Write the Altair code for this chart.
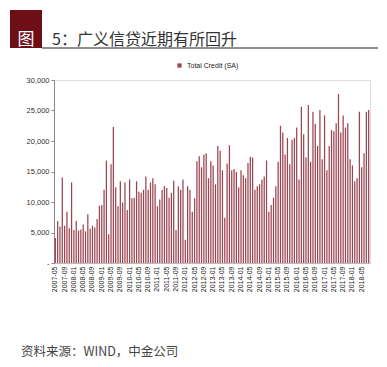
import altair as alt
import pandas as pd

start_month = "2007-05"
values = [
    4100, 6900, 6000, 14000, 6100, 8400, 5700, 13200, 5400, 6900, 5300, 5500, 6300, 5200,
    8000, 5600, 6100, 5800, 7200, 9400, 9500, 12000, 16800, 4700, 16200, 22300, 12400, 9300,
    13400, 9900, 13200, 8700, 13700, 10600, 10700, 13400, 11700, 11500, 12000, 14200, 12000,
    13200, 13900, 12900, 9300, 10400, 12000, 12600, 12300, 10700, 11500, 13500, 5400, 12600,
    12000, 13700, 3800, 12600, 12000, 8400, 10600, 16700, 17500, 15700, 17800, 18000, 13900,
    16700, 16000, 12900, 19200, 18400, 15200, 7400, 16300, 19300, 15200, 15400, 14900, 12400,
    15200, 14400,
    13900, 16400, 17400, 17300, 12000, 12600, 12900, 13700, 14200, 16800, 8400, 9500, 10700,
    12600, 16600, 22500, 21400, 17800, 20500, 16200, 20200, 20500, 22200, 13700, 25600, 21100,
    17300, 25900,
    16600, 24800, 22800, 19200, 25100, 17000, 24200, 15200, 19200, 21800, 21600, 22900, 27700,
    21400, 24200, 22200, 22900, 17000, 16000, 13400, 13900, 24800, 15700, 18000, 24800, 25100,
]
series_name = "Total Credit (SA)"
title_num = "5：广义信贷近期有所回升"
title_box = "图"
source_text = "资料来源：WIND，中金公司"
y_ticks = [0, 5000, 10000, 15000, 20000, 25000, 30000]

months = pd.date_range(start_month + "-01", periods=len(values), freq="MS").strftime("%Y-%m").tolist()
df = pd.DataFrame({"month": months, "value": values, "series": series_name})
label_months = months[::4]
one = pd.DataFrame({"k": [0]})

W, H = 316, 183
bar_color = "#9c4450"

bars = alt.Chart(df).mark_bar(width=1.25).encode(
    x=alt.X("month:N", sort=None, scale=alt.Scale(paddingInner=0.45, paddingOuter=0.3),
            axis=alt.Axis(values=label_months, labelAngle=270, labelFontSize=7, labelColor="#222",
                          labelFont="Liberation Sans", ticks=False, domainColor="#bbbbbb",
                          labelPadding=3, title=None)),
    y=alt.Y("value:Q", scale=alt.Scale(domain=[0, 30000], nice=False),
            axis=alt.Axis(values=y_ticks, labelFontSize=7.5, labelColor="#333",
                          labelFont="Liberation Sans", tickSize=3, tickColor="#888",
                          domainColor="#888", grid=False, title=None,
                          labelExpr="datum.value == 0 ? '-' : format(datum.value, ',')")),
    color=alt.Color("series:N", scale=alt.Scale(range=[bar_color]),
                    legend=alt.Legend(orient="none", legendX=122, legendY=-18, title=None,
                                      symbolType="square", symbolSize=18, labelFontSize=7,
                                      symbolFillColor="#5e1820", symbolStrokeWidth=0,
                                      labelFont="Liberation Sans", labelColor="#222")),
)

box = alt.Chart(one).mark_rect(color="#6e0f18").encode(
    x=alt.value(-44), x2=alt.value(-12), y=alt.value(-70), y2=alt.value(-32)
)
underline = alt.Chart(one).mark_rule(color="#222", strokeWidth=1.2).encode(
    x=alt.value(-12), x2=alt.value(324), y=alt.value(-32)
)
box_text = alt.Chart(one).mark_text(text=title_box, color="white", fontSize=17,
                                    font="Noto Sans CJK SC", align="center", baseline="alphabetic").encode(
    x=alt.value(-28), y=alt.value(-35)
)
title_text = alt.Chart(one).mark_text(text=title_num, color="#333", fontSize=16, fontWeight="normal",
                                      font="Noto Sans CJK SC", align="left", baseline="alphabetic").encode(
    x=alt.value(-2), y=alt.value(-35)
)
footer = alt.Chart(one).mark_text(text=source_text, color="#444", fontSize=12.5, fontWeight="normal",
                                  font="Noto Sans CJK SC", align="left", baseline="middle").encode(
    x=alt.value(-33), y=alt.value(272)
)

chart = alt.layer(bars, box, underline, box_text, title_text, footer).properties(
    width=W, height=H,
    autosize=alt.AutoSizeParams(type="none"),
    padding={"left": 46, "top": 72, "right": 9, "bottom": 96},
).configure_view(stroke=None).configure(background="white")

chart.save("out.html", embed_options={"renderer": "svg", "actions": False})
